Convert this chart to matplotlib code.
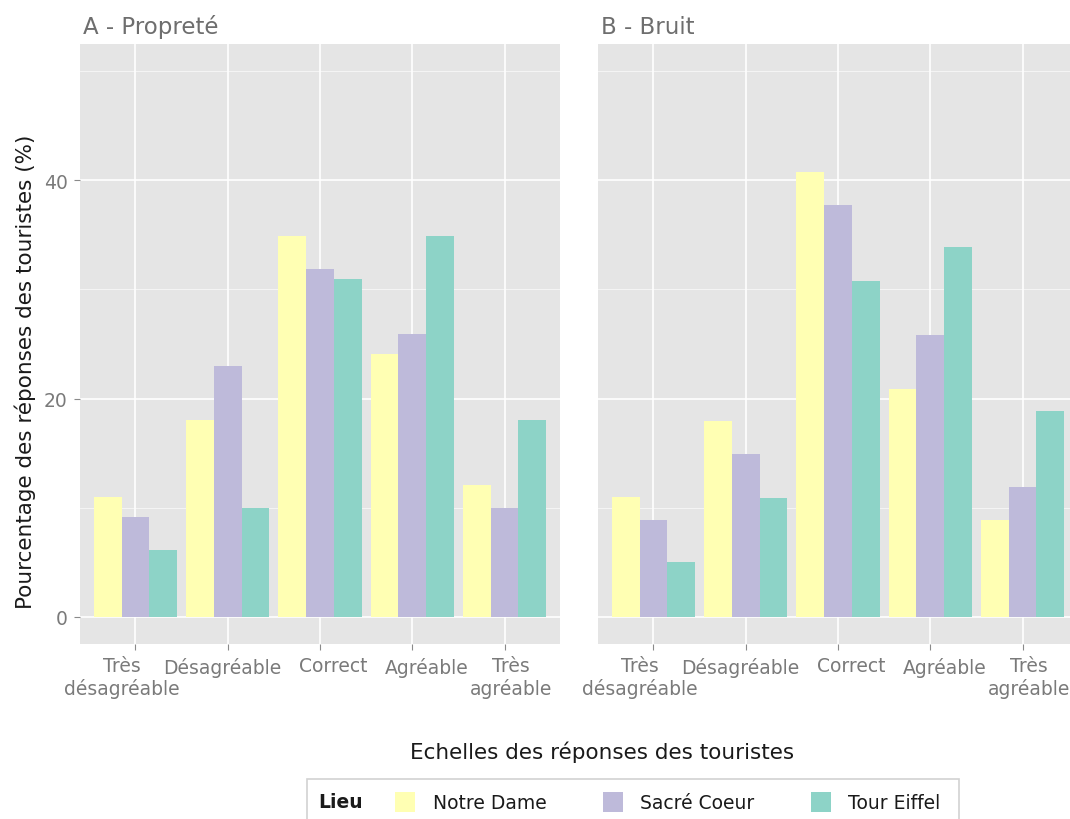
import matplotlib
matplotlib.use("Agg")
import matplotlib.pyplot as plt
import matplotlib.patches as patches
import matplotlib.transforms as mtransforms
import numpy as np

W, H = 1070, 820

categories = ["Très\ndésagréable", "Désagréable", "Correct", "Agréable", "Très\nagréable"]
places = ["Notre Dame", "Sacré Coeur", "Tour Eiffel"]
colors = ["#FFFFB3", "#BEBADA", "#8DD3C7"]

# A - Propreté
proprete_notre_dame = [11.0, 18.0, 34.9, 24.1, 12.1]
proprete_sacre_coeur = [9.1, 23.0, 31.9, 25.9, 10.0]
proprete_tour_eiffel = [6.1, 10.0, 31.0, 34.9, 18.0]

# B - Bruit
bruit_notre_dame = [11.0, 17.9, 40.8, 20.9, 8.9]
bruit_sacre_coeur = [8.9, 14.9, 37.7, 25.8, 11.9]
bruit_tour_eiffel = [5.0, 10.9, 30.8, 33.9, 18.9]

y_ticks = [0, 20, 40]

# horizontal nudge of tick labels (pixels), as in the reference
label_shift = [-14, -5, 13, 14, 6]
LABEL_SIZE = 13.5


def px(x0, y0, w, h):
    # pixel box (from top-left) -> figure fraction rect
    return [x0 / W, 1 - (y0 + h) / H, w / W, h / H]


def draw_panel(ax, series, title):
    ax.set_facecolor("#E5E5E5")
    x = np.arange(1, len(categories) + 1)
    bw = 0.3
    for i, (vals, col) in enumerate(zip(series, colors)):
        ax.bar(x + (i - 1) * bw, vals, width=bw, color=col, edgecolor="none", zorder=3)
    ax.set_xlim(0.4, 5.6)
    ax.set_ylim(-2.5, 52.5)
    ax.set_xticks(x)
    # first line as tick label, second line as its own text just below
    ax.set_xticklabels([c.split("\n")[0] for c in categories])
    ax.set_yticks(y_ticks)
    ax.set_yticks([10, 30, 50], minor=True)
    ax.grid(which="major", color="white", linewidth=1.2, zorder=0)
    ax.grid(which="minor", axis="y", color="white", linewidth=0.6, alpha=0.7, zorder=0)
    ax.set_axisbelow(True)
    for s in ax.spines.values():
        s.set_visible(False)
    ax.tick_params(axis="both", which="major", length=4, width=0.8, color="#8a8a8a",
                   labelcolor="#7a7a7a", labelsize=LABEL_SIZE, pad=5)
    ax.tick_params(axis="both", which="minor", length=0)
    for lab, dx in zip(ax.get_xticklabels(), label_shift):
        off = mtransforms.ScaledTranslation(dx / 100, 0, ax.figure.dpi_scale_trans)
        lab.set_transform(lab.get_transform() + off)
    for xi, cat, dx in zip(x, categories, label_shift):
        parts = cat.split("\n")
        if len(parts) > 1:
            ax.annotate(parts[1], xy=(xi, 0), xycoords=("data", "axes fraction"),
                        xytext=(dx, -34), textcoords="offset pixels", ha="center",
                        va="top", fontsize=LABEL_SIZE, color="#7a7a7a")
    ax.set_title(title, loc="left", color="#6e6e6e", fontsize=16.5, pad=8, x=0.006)


fig = plt.figure(figsize=(W / 100, H / 100), dpi=100)
plt.rcParams["font.family"] = ["DejaVu Sans"]

ax1 = fig.add_axes(px(80, 45, 480, 600))
ax2 = fig.add_axes(px(598, 45, 480, 600))

draw_panel(ax1, [proprete_notre_dame, proprete_sacre_coeur, proprete_tour_eiffel], "A - Propreté")
draw_panel(ax2, [bruit_notre_dame, bruit_sacre_coeur, bruit_tour_eiffel], "B - Bruit")
ax2.tick_params(axis="y", which="major", length=0, labelleft=False)

fig.text(25 / W, 1 - 372 / H, "Pourcentage des réponses des touristes (%)", rotation=90,
         ha="center", va="center", fontsize=15.5, color="#1a1a1a")
fig.text(602 / W, 1 - 752 / H, "Echelles des réponses des touristes",
         ha="center", va="center", fontsize=15.5, color="#1a1a1a")

# legend box
fig.patches.append(patches.Rectangle((307 / W, 1 - 835 / H), 652 / W, 55 / H,
                                     transform=fig.transFigure, facecolor="white",
                                     edgecolor="#d2d2d2", linewidth=1.2))
fig.text(318 / W, 1 - 803 / H, "Lieu", ha="left", va="center", fontsize=13.5,
         fontweight="bold", color="#1a1a1a")
handles = [patches.Patch(facecolor=c, edgecolor="none") for c in colors]
fig.legend(handles, places, loc="center left", bbox_to_anchor=(386 / W, 1 - 803 / H),
           ncol=3, frameon=False, fontsize=13.5, borderpad=0, handlelength=1.05,
           handleheight=1.3, handletextpad=0.95, columnspacing=3.0, labelcolor="#1a1a1a")

fig.savefig("out.png", dpi=100)
